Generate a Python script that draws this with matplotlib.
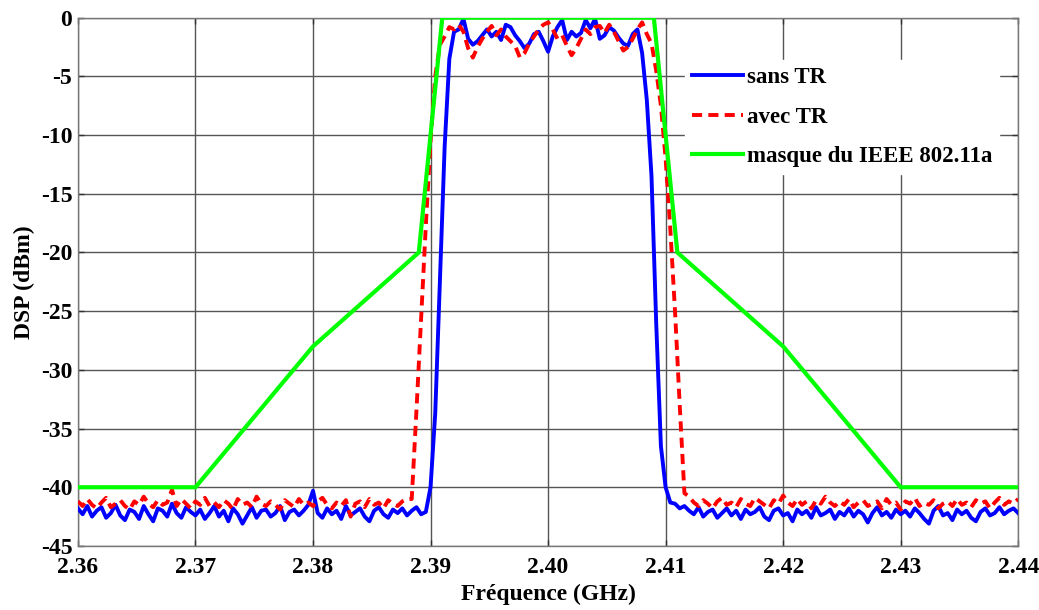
import numpy as np
import matplotlib
matplotlib.use("Agg")
import matplotlib.pyplot as plt

# ---------------- data ----------------
freq_start = 2.36
freq_step = 0.0004
n_points = 201

# "sans TR" (blue) spectrum, dBm
blue_left = [-41.8,-42.3,-41.6,-42.5,-42.0,-41.7,-42.6,-42.2,-41.5,-42.4,
             -42.8,-41.9,-42.1,-42.7,-41.6,-42.3,-42.9,-41.8,-42.0,-42.5,
             -41.4,-42.2,-42.6,-41.7,-42.1,-42.4,-41.9,-42.7,-42.2,-41.6,
             -42.5,-42.0,-42.9,-41.8,-42.3,-43.1,-42.4,-41.7,-42.6,-42.0,
             -41.9,-42.5,-42.2,-41.6,-42.8,-42.1,-41.9,-42.4,-42.0,-41.5,
             -40.3,-42.2,-42.6,-41.8,-42.3,-42.0,-42.7,-41.6,-42.4,-42.1,
             -41.8,-42.5,-42.9,-42.0,-41.7,-42.3,-42.6,-41.9,-42.2,-41.8,
             -42.4,-42.0,-41.7,-42.3,-42.1]
blue_rise = [-40.0,-33.7,-22.3,-11.0,-3.5,-1.2]
blue_band = [-1.0,-0.1,-1.8,-2.3,-2.0,-1.5,-1.0,-1.6,-1.2,-1.9,
             -0.6,-0.8,-1.5,-2.0,-2.6,-2.2,-1.4,-1.2,-2.0,-2.9,
             -1.6,-0.8,-0.2,-1.9,-1.2,-1.6,-1.3,-0.2,-0.9,-0.1,
             -1.8,-1.5,-0.8,-1.1,-1.7,-2.2,-2.4,-1.4,-1.0]
blue_fall = [-3.0,-7.0,-13.5,-26.0,-36.5,-40.0,-41.3]
blue_right = [-41.4,-41.8,-41.6,-42.0,-42.3,-41.7,-42.5,-42.1,-41.9,-42.6,
              -42.2,-41.8,-42.4,-42.0,-42.7,-41.9,-42.3,-42.1,-41.7,-42.5,
              -42.8,-42.0,-41.8,-42.4,-42.2,-42.9,-41.9,-42.3,-42.0,-42.6,
              -41.7,-42.4,-42.2,-41.9,-42.7,-42.1,-42.4,-41.8,-42.5,-42.0,
              -42.3,-43.0,-42.2,-41.7,-42.4,-42.1,-42.6,-41.9,-42.3,-42.0,
              -42.5,-41.8,-42.2,-42.7,-43.1,-42.0,-41.6,-42.4,-42.2,-42.8,
              -41.9,-42.3,-42.0,-42.6,-42.9,-42.1,-41.8,-42.4,-42.2,-41.7,
              -42.3,-42.0,-41.8,-42.2]

# "avec TR" (red) spectrum, dBm
red_left = [-41.2,-41.6,-41.0,-41.5,-41.8,-41.3,-40.9,-41.7,-41.4,-41.1,
            -41.6,-41.9,-41.2,-41.5,-40.8,-41.4,-41.7,-41.1,-41.5,-41.3,
            -40.2,-41.6,-41.0,-41.4,-41.8,-41.2,-41.5,-40.9,-41.6,-41.3,
            -41.7,-41.1,-41.4,-41.9,-41.0,-41.5,-41.3,-41.7,-40.8,-41.4,
            -41.6,-41.2,-41.5,-41.9,-41.1,-41.4,-41.7,-41.0,-41.5,-41.3,
            -41.6,-41.2,-40.9,-41.5,-41.8,-41.3,-41.6,-41.1,-42.5,-41.4,
            -41.2,-41.7,-41.0,-41.5,-41.3,-41.8,-41.1,-41.4,-41.6,-41.2,
            -41.0]
red_rise = [-41.0,-33.5,-25.6,-17.7,-10.5,-5.0,-2.3,-1.6,-0.8,-1.0]
red_band = [-0.6,-1.2,-2.6,-3.4,-2.5,-1.8,-1.2,-0.7,-1.5,-1.0,
            -1.6,-2.0,-2.4,-3.4,-3.0,-2.2,-1.6,-1.0,-0.6,-0.4,
            -1.0,-1.8,-1.5,-2.4,-3.2,-2.6,-1.8,-1.0,-1.4,-0.8,
            -0.7,-1.3,-0.6,-1.2,-2.0,-2.8,-2.5,-1.8,-1.0,-0.4,
            -1.4]
red_fall = [-2.2,-4.5,-7.5,-12.0,-18.0,-25.0,-33.0,-40.5]
red_right = [-40.8,-41.3,-41.6,-41.1,-41.4,-41.8,-41.2,-40.9,-41.5,-41.3,
             -41.7,-41.0,-41.4,-41.6,-40.9,-41.2,-41.5,-41.8,-41.1,-41.4,
             -40.7,-41.3,-41.6,-41.0,-41.5,-41.2,-41.8,-41.1,-41.4,-40.8,
             -41.3,-41.6,-41.2,-41.5,-41.0,-41.7,-41.3,-41.1,-41.6,-41.4,
             -41.2,-41.8,-41.0,-41.5,-41.3,-41.9,-41.2,-41.4,-40.9,-41.6,
             -41.3,-41.5,-41.1,-41.8,-41.4,-41.2,-41.6,-41.0,-41.5,-41.3,
             -41.7,-41.1,-41.4,-41.2,-41.8,-41.3,-40.9,-41.5,-41.2,-41.4,
             -41.0]

# IEEE 802.11a mask
mask_freq = [2.36, 2.37, 2.38, 2.389, 2.391, 2.409, 2.411, 2.42, 2.43, 2.44]
mask_db = [-40, -40, -28, -20, 0, 0, -20, -28, -40, -40]

labels = ["sans TR", "avec TR", "masque du IEEE 802.11a"]
xticks = [2.36, 2.37, 2.38, 2.39, 2.40, 2.41, 2.42, 2.43, 2.44]
xticklabels = ["2.36", "2.37", "2.38", "2.39", "2.40", "2.41", "2.42", "2.43", "2.44"]
yticks = [-45, -40, -35, -30, -25, -20, -15, -10, -5, 0]

# ---------------- build ----------------
freq = freq_start + freq_step * np.arange(n_points)
blue = np.array(blue_left + blue_rise + blue_band + blue_fall + blue_right)
red = np.array(red_left + red_rise + red_band + red_fall + red_right)
assert len(blue) == n_points and len(red) == n_points

plt.rcParams['font.family'] = ['Liberation Serif', 'DejaVu Serif']
plt.rcParams['font.weight'] = 'bold'
plt.rcParams['axes.unicode_minus'] = False

fig = plt.figure(figsize=(10.39, 6.10), dpi=100)
ax = fig.add_axes([0.075, 0.105, 0.905, 0.866])

ax.plot(freq, blue, color='#0000ff', lw=2.8, label=labels[0], zorder=3)
ax.plot(freq, red, color='#ff0000', lw=2.8, ls=(0, (2.6, 1.6)), label=labels[1], zorder=4)
ax.plot(mask_freq, mask_db, color='#00ff00', lw=3.0, label=labels[2], zorder=5,
        solid_joinstyle='miter')

ax.set_xlim(2.36, 2.44)
ax.set_ylim(-45, 0)
ax.set_xticks(xticks)
ax.set_xticklabels(xticklabels)
ax.set_yticks(yticks)
ax.tick_params(direction='in', top=True, right=True, labelsize=17, length=4,
               width=1, color='#333333')
ax.tick_params(axis='x', pad=8)
ax.tick_params(axis='y', pad=4)
for lab in ax.get_xticklabels() + ax.get_yticklabels():
    lab.set_fontweight('bold')
ax.grid(True, color='#555555', lw=1.0, ls='-')
ax.set_axisbelow(True)
for sp in ax.spines.values():
    sp.set_color('#777777')
    sp.set_linewidth(1.0)

ax.set_xlabel("Fréquence (GHz)", fontsize=17, fontweight='bold', labelpad=4)
ax.set_ylabel("DSP (dBm)", fontsize=17, fontweight='bold', labelpad=4)

leg = ax.legend(loc='upper left', bbox_to_anchor=(0.646, 0.919), fontsize=16.5,
                frameon=True, facecolor='white', edgecolor='white', framealpha=1.0,
                handlelength=2.2, handletextpad=0.2, labelspacing=0.8,
                borderpad=0.3, borderaxespad=0.0, fancybox=False)
for t in leg.get_texts():
    t.set_fontweight('bold')
leg.set_zorder(10)

fig.savefig("out.png", dpi=100)
